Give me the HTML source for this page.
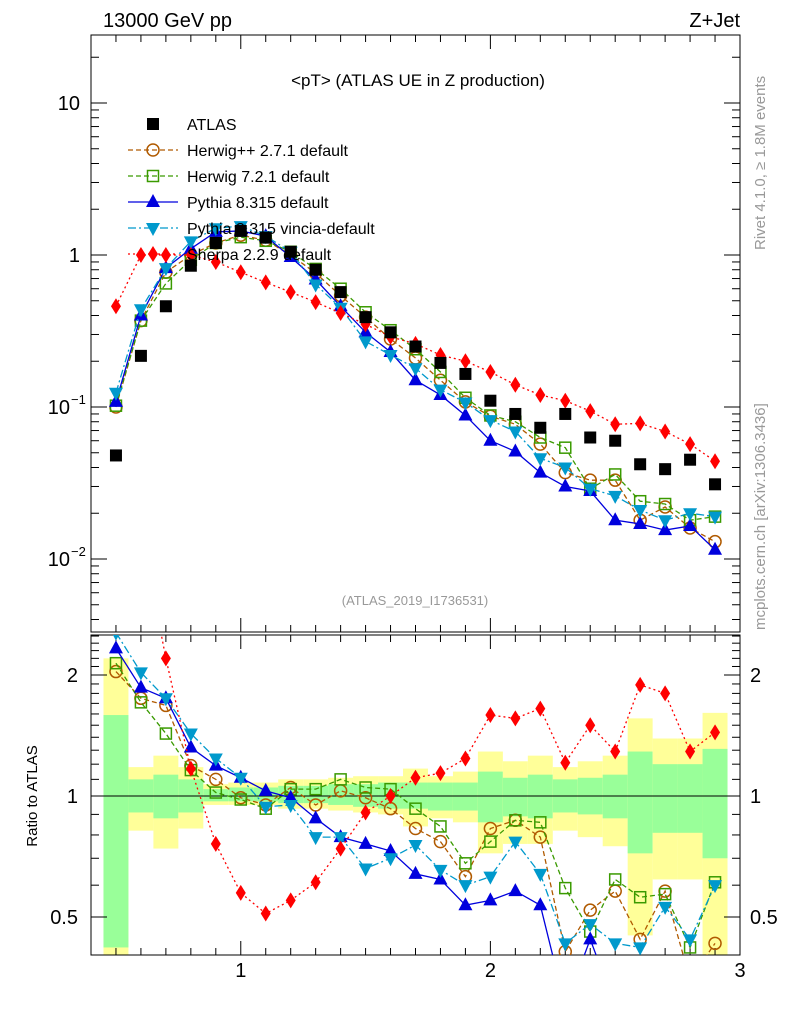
<!DOCTYPE html>
<html><head><meta charset="utf-8"><style>
body{margin:0;background:#fff;font-family:"Liberation Sans",sans-serif}
svg{display:block}
</style></head><body>
<svg id="c" width="786" height="1024" xmlns="http://www.w3.org/2000/svg" font-family="Liberation Sans, sans-serif">
<text x="103" y="27" font-size="20">13000 GeV pp</text>
<text x="740" y="27" font-size="20" text-anchor="end">Z+Jet</text>
<text x="418" y="86" font-size="17" text-anchor="middle">&lt;pT&gt; (ATLAS UE in Z production)</text>
<text x="415" y="605" font-size="13" fill="#999" text-anchor="middle">(ATLAS_2019_I1736531)</text>
<text transform="translate(765,250) rotate(-90)" font-size="15" fill="#999">Rivet 4.1.0, ≥ 1.8M events</text>
<text transform="translate(765,630) rotate(-90)" font-size="15" fill="#999">mcplots.cern.ch [arXiv:1306.3436]</text>
<text transform="translate(37,796) rotate(-90)" font-size="15" text-anchor="middle">Ratio to ATLAS</text>
<g id="bands"></g><g id="axes"></g><g id="marks"></g><g id="legend"></g>
</svg>
<script>
const xs=[0.5,0.6,0.7,0.8,0.9,1.0,1.1,1.2,1.3,1.4,1.5,1.6,1.7,1.8,1.9,2.0,2.1,2.2,2.3,2.4,2.5,2.6,2.7,2.8,2.9];
const atlas=[0.048,0.217,0.46,0.85,1.2,1.44,1.3,1.05,0.8,0.57,0.39,0.31,0.25,0.195,0.165,0.11,0.09,0.073,0.09,0.063,0.06,0.042,0.039,0.045,0.031];
const herwigpp=[0.1,0.37,0.77,1.0,1.2,1.35,1.25,1.0,0.76,0.54,0.39,0.28,0.21,0.15,0.108,0.087,0.077,0.057,0.037,0.033,0.033,0.018,0.022,0.016,0.013];
const herwig7=[0.102,0.37,0.65,0.93,1.2,1.31,1.24,1.05,0.81,0.6,0.42,0.32,0.24,0.17,0.115,0.088,0.08,0.063,0.054,0.029,0.036,0.024,0.023,0.018,0.019];
const pythia=[0.108,0.4,0.82,1.1,1.42,1.44,1.33,0.97,0.69,0.46,0.31,0.23,0.15,0.12,0.088,0.06,0.051,0.037,0.03,0.028,0.018,0.017,0.0155,0.0165,0.0115];
const vincia=[0.124,0.44,0.82,1.23,1.5,1.55,1.33,1.05,0.64,0.45,0.27,0.22,0.18,0.13,0.107,0.082,0.069,0.046,0.04,0.029,0.026,0.021,0.018,0.02,0.019];
const sherpa=[0.46,1.0,1.0,1.0,0.9,0.77,0.66,0.57,0.49,0.415,0.35,0.29,0.26,0.22,0.2,0.17,0.14,0.12,0.11,0.094,0.077,0.078,0.069,0.057,0.044];
const rHerwigpp=[2.04,1.75,1.68,1.19,1.1,0.99,0.95,1.05,0.95,1.03,0.99,0.93,0.83,0.77,0.63,0.83,0.87,0.79,0.41,0.52,0.58,0.44,0.58,0.35,0.43];
const rHerwig7=[2.14,1.71,1.43,1.16,1.02,0.98,0.93,1.04,1.04,1.1,1.05,1.04,0.93,0.84,0.68,0.77,0.87,0.86,0.59,0.46,0.62,0.56,0.57,0.42,0.61];
const rPythia=[2.33,1.86,1.75,1.32,1.19,1.11,1.03,0.99,0.88,0.79,0.76,0.73,0.64,0.62,0.535,0.55,0.58,0.535,0.3,0.44,0.3,0.3,0.3,0.3,0.3];
const rVincia=[2.55,2.03,1.75,1.43,1.24,1.11,0.94,0.95,0.79,0.79,0.66,0.7,0.755,0.655,0.6,0.63,0.77,0.64,0.43,0.48,0.43,0.42,0.53,0.44,0.6];
const rSherpa=[9.6,4.6,2.2,1.17,0.76,0.574,0.51,0.55,0.61,0.74,0.91,1.0,1.11,1.14,1.24,1.59,1.56,1.65,1.21,1.5,1.29,1.89,1.8,1.29,1.44];
const yelHi=[2.2,1.18,1.26,1.18,1.07,1.08,1.08,1.1,1.1,1.11,1.12,1.12,1.17,1.12,1.15,1.29,1.22,1.26,1.18,1.22,1.26,1.56,1.39,1.39,1.61];
const grnHi=[1.59,1.1,1.13,1.1,1.04,1.05,1.05,1.06,1.06,1.07,1.07,1.08,1.08,1.08,1.08,1.15,1.11,1.13,1.1,1.11,1.13,1.29,1.2,1.2,1.31];
const grnLo=[0.42,0.91,0.88,0.91,0.97,0.97,0.97,0.96,0.96,0.95,0.94,0.93,0.93,0.92,0.92,0.86,0.89,0.88,0.91,0.9,0.88,0.72,0.81,0.81,0.7];
const yelLo=[0.38,0.82,0.74,0.83,0.95,0.95,0.95,0.93,0.93,0.92,0.91,0.9,0.84,0.88,0.86,0.72,0.76,0.76,0.82,0.79,0.75,0.45,0.62,0.62,0.38];
const ns="http://www.w3.org/2000/svg";
const X0=91,X1=740,Y0=35,Y1=632,R0=635,R1=955;
const sx=v=>X0+(v-0.4)/2.6*(X1-X0);
const sy=v=>255-152*Math.log10(v);
const ry=v=>796-121*Math.log2(v);
function el(t,a,p){const e=document.createElementNS(ns,t);for(const k in a)e.setAttribute(k,a[k]);p.appendChild(e);return e;}
const svg=document.getElementById('c');
const defs=el('defs',{},svg);
const cp=el('clipPath',{id:'cm'},defs);el('rect',{x:X0,y:Y0,width:X1-X0,height:Y1-Y0},cp);
const cr=el('clipPath',{id:'cr'},defs);el('rect',{x:X0,y:R0,width:X1-X0,height:R1-R0},cr);
// bands
const bands=document.getElementById('bands');
xs.forEach((x,i)=>{
 const xa=sx(x-0.05),xb=sx(x+0.05);
 const y1=el('rect',{x:xa,y:Math.max(R0,ry(yelHi[i])),width:xb-xa,height:Math.min(R1,ry(yelLo[i]))-Math.max(R0,ry(yelHi[i])),fill:'#ffff99'},bands);
 
 
 const g1=el('rect',{x:xa,y:ry(grnHi[i]),width:xb-xa,height:Math.min(R1,ry(grnLo[i]))-ry(grnHi[i]),fill:'#99ff99'},bands);
 
 
});
// axes
const ax=document.getElementById('axes');
el('rect',{x:X0,y:Y0,width:X1-X0,height:Y1-Y0,fill:'none',stroke:'#000','stroke-width':1},ax);
el('rect',{x:X0,y:R0,width:X1-X0,height:R1-R0,fill:'none',stroke:'#000','stroke-width':1},ax);
el('line',{x1:X0,x2:X1,y1:796,y2:796,stroke:'#000'},ax);
for(let v=0.5;v<=3.001;v+=0.1){const x=sx(v);const maj=Math.abs(v-Math.round(v))<1e-6;const L=maj?14:7;
 [[Y0,1],[Y1,-1],[R0,1],[R1,-1]].forEach(([y,d])=>el('line',{x1:x,x2:x,y1:y,y2:y+d*L,stroke:'#000'},ax));}
for(let d=-3;d<=1;d++)for(let m=1;m<10;m++){const v=m*Math.pow(10,d);const y=sy(v);if(y<Y0||y>Y1)continue;const L=m==1?16:8;
 el('line',{x1:X0,x2:X0+L,y1:y,y2:y,stroke:'#000'},ax);el('line',{x1:X1,x2:X1-L,y1:y,y2:y,stroke:'#000'},ax);}
[0.4,0.5,0.6,0.7,0.8,0.9,1,1.1,1.2,1.3,1.4,1.5,1.6,1.7,1.8,1.9,2,2.1,2.2,2.3,2.4,2.5].forEach(v=>{const y=ry(v);if(y<R0||y>R1)return;const L=(v==0.5||v==1||v==2)?16:8;
 el('line',{x1:X0,x2:X0+L,y1:y,y2:y,stroke:'#000'},ax);el('line',{x1:X1,x2:X1-L,y1:y,y2:y,stroke:'#000'},ax);});
const ylab=[[10,'10',''],[1,'1',''],[0.1,'10','−1'],[0.01,'10','−2']];
ylab.forEach(([v,b,e])=>{const t=el('text',{x:e?70:80,y:sy(v)+7,'font-size':20,'text-anchor':'end'},ax);t.textContent=b;
 
 
 if(e){const s=el('text',{x:71,y:sy(v)-3,'font-size':13},ax);s.textContent=e;}});
[[2,'2'],[1,'1'],[0.5,'0.5']].forEach(([v,s])=>{
 const a=el('text',{x:78,y:ry(v)+7,'font-size':20,'text-anchor':'end'},ax);a.textContent=s;
 
 
 const b=el('text',{x:750,y:ry(v)+7,'font-size':20},ax);b.textContent=s;
 
 });
[1,2,3].forEach(v=>{const t=el('text',{x:sx(v),y:977,'font-size':20,'text-anchor':'middle'},ax);t.textContent=v;
 
 });
// markers
function marker(g,type,x,y,col){
 if(type=='sq')el('rect',{x:x-6,y:y-6,width:12,height:12,fill:col},g);
 else if(type=='osq')el('rect',{x:x-5.5,y:y-5.5,width:11,height:11,fill:'none',stroke:col,'stroke-width':1.5},g);
 else if(type=='oc')el('circle',{cx:x,cy:y,r:6,fill:'none',stroke:col,'stroke-width':1.5},g);
 else if(type=='tu')el('polygon',{points:`${x},${y-8} ${x-7},${y+5} ${x+7},${y+5}`,fill:col},g);
 else if(type=='td')el('polygon',{points:`${x},${y+8} ${x-7},${y-5} ${x+7},${y-5}`,fill:col},g);
 else if(type=='di')el('polygon',{points:`${x},${y-8} ${x-5},${y} ${x},${y+8} ${x+5},${y}`,fill:col},g);
}
const series=[
 {name:'herwigpp',main:herwigpp,ratio:rHerwigpp,col:'#b05a00',m:'oc',dash:'5,3',label:'Herwig++ 2.7.1 default'},
 {name:'herwig7',main:herwig7,ratio:rHerwig7,col:'#3a9a00',m:'osq',dash:'5,3',label:'Herwig 7.2.1 default'},
 {name:'pythia',main:pythia,ratio:rPythia,col:'#0000dd',m:'tu',dash:'',label:'Pythia 8.315 default'},
 {name:'vincia',main:vincia,ratio:rVincia,col:'#0099cc',m:'td',dash:'8,3,2,3',label:'Pythia 8.315 vincia-default'},
 {name:'sherpa',main:sherpa,ratio:rSherpa,col:'#ff0000',m:'di',dash:'2,3',label:'Sherpa 2.2.9 default'}];
const mk=document.getElementById('marks');
const gm=el('g',{'clip-path':'url(#cm)'},mk),gr=el('g',{'clip-path':'url(#cr)'},mk);
series.forEach(s=>{
 const p1=el('polyline',{points:xs.map((x,i)=>sx(x)+','+sy(s.main[i])).join(' '),fill:'none',stroke:s.col,'stroke-width':1.3,'stroke-dasharray':s.dash},gm);
 
 
 const p2=el('polyline',{points:xs.map((x,i)=>sx(x)+','+ry(s.ratio[i])).join(' '),fill:'none',stroke:s.col,'stroke-width':1.3,'stroke-dasharray':s.dash},gr);
 
 
 xs.forEach((x,i)=>{marker(gm,s.m,sx(x),sy(s.main[i]),s.col);marker(gr,s.m,sx(x),ry(s.ratio[i]),s.col);});
});
xs.forEach((x,i)=>marker(gm,'sq',sx(x),sy(atlas[i]),'#000'));
// legend
const lg=document.getElementById('legend');
const ents=[{label:'ATLAS',m:'sq',col:'#000',dash:null}].concat(series);
ents.forEach((s,i)=>{const y=124+i*26;const g=el('g',{},lg);
 
 
 if(s.dash!==null)el('line',{x1:128,x2:178,y1:y,y2:y,stroke:s.col,'stroke-width':1.3,'stroke-dasharray':s.dash},g);
 marker(g,s.m,153,y,s.col);
 const t=el('text',{x:187,y:y+6,'font-size':16},g);t.textContent=s.label;});
</script>
</body></html>
